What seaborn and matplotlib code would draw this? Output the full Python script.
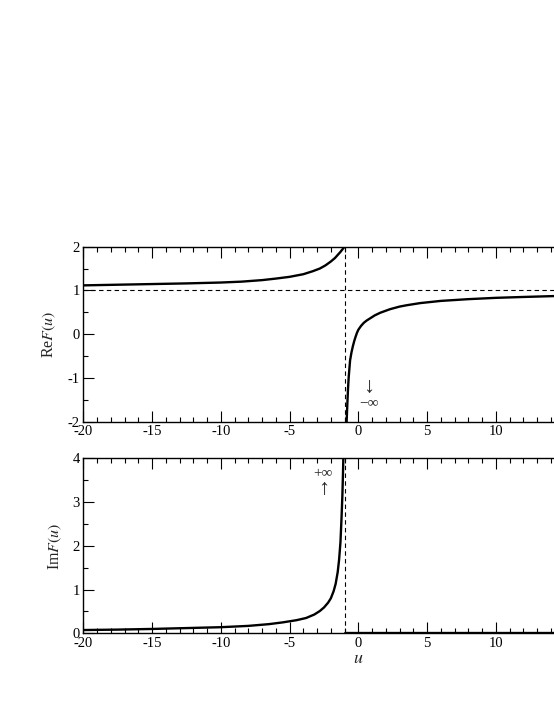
import numpy as np
import pandas as pd
import matplotlib
matplotlib.use("Agg")
import matplotlib.pyplot as plt
from matplotlib.ticker import MultipleLocator
import seaborn as sns

# values
re_left_u = [-20, -17.5, -15, -12.5, -10, -8.5, -7, -6, -5, -4, -3.3, -2.8, -2.4, -2.0, -1.7, -1.5, -1.3, -1.15, -1.0]
re_left_v = [1.115, 1.13, 1.145, 1.16, 1.18, 1.20, 1.235, 1.27, 1.31, 1.37, 1.44, 1.50, 1.57, 1.66, 1.74, 1.81, 1.88, 1.94, 2.0]

re_right_u = [-0.85, -0.8, -0.75, -0.7, -0.6, -0.5, -0.4, -0.3, -0.2, -0.1, 0, 0.2, 0.4, 0.6, 0.85, 1.2, 1.6, 2.3, 3, 3.5, 4.5, 6, 8, 10, 12, 14.2, 17, 20]
re_right_v = [-2.0, -1.6, -1.25, -0.98, -0.6, -0.42, -0.28, -0.16, -0.06, 0.03, 0.10, 0.19, 0.26, 0.31, 0.36, 0.43, 0.49, 0.57, 0.63, 0.66, 0.71, 0.76, 0.80, 0.83, 0.85, 0.87, 0.885, 0.90]

im_u = [-20, -17.5, -15, -12.5, -10, -8, -6.5, -5.5, -4.5, -3.8, -3.2, -2.8, -2.5, -2.2, -2.0, -1.8, -1.65, -1.5, -1.4, -1.3, -1.22, -1.16, -1.12, -1.09]
im_v = [0.075, 0.085, 0.10, 0.12, 0.14, 0.17, 0.21, 0.25, 0.30, 0.35, 0.43, 0.51, 0.59, 0.70, 0.80, 0.96, 1.13, 1.40, 1.68, 2.08, 2.65, 3.15, 3.6, 4.0]

im_zero_u = [-1, 20]
im_zero_v = [0, 0]

pole = -1
re_limit = 1

sns.set_style("ticks")
plt.rcParams['font.family'] = ['Liberation Serif', 'DejaVu Serif']
plt.rcParams['mathtext.fontset'] = 'stix'
plt.rcParams['axes.unicode_minus'] = False

fig = plt.figure(figsize=(5.54, 7.17), dpi=100)
# the reference is cut off on the right, so the axes run past the canvas
ax1 = fig.add_axes([0.1504, 0.4119, 0.9928, 0.2441])
ax2 = fig.add_axes([0.1504, 0.1167, 0.9928, 0.2441])

lw = 1.7
sns.lineplot(x=re_left_u, y=re_left_v, sort=False, color='black', lw=lw, ax=ax1)
sns.lineplot(x=re_right_u, y=re_right_v, sort=False, color='black', lw=lw, ax=ax1)
ax1.axhline(re_limit, color='black', lw=0.8, ls=(0, (4, 3)))
ax1.axvline(pole, color='black', lw=0.8, ls=(0, (4, 3)))

sns.lineplot(x=im_u, y=im_v, sort=False, color='black', lw=lw, ax=ax2)
sns.lineplot(x=im_zero_u, y=im_zero_v, sort=False, color='black', lw=2.4, ax=ax2)
ax2.axvline(pole, color='black', lw=0.8, ls=(0, (4, 3)))

ax1.set_ylim(-2, 2)
ax2.set_ylim(0, 4)
for ax in (ax1, ax2):
    ax.set_xlim(-20, 20)
    ax.xaxis.set_major_locator(MultipleLocator(5))
    ax.xaxis.set_minor_locator(MultipleLocator(1))
    ax.yaxis.set_major_locator(MultipleLocator(1))
    ax.yaxis.set_minor_locator(MultipleLocator(0.5))
    ax.tick_params(which='both', direction='in', top=True, right=True,
                   labelsize=10.5, colors='black', pad=2.5)
    ax.tick_params(which='major', length=7.6, width=0.8)
    ax.tick_params(which='minor', length=3.6, width=0.8)
    for s in ax.spines.values():
        s.set_linewidth(1.0)
        s.set_color('black')
    ax.set_facecolor('white')

ax1.set_ylabel(r"Re$F(u)$", fontsize=11.5)
ax2.set_ylabel(r"Im$F(u)$", fontsize=11.5)
ax1.yaxis.set_label_coords(-0.046, 0.5)
ax2.yaxis.set_label_coords(-0.036, 0.5)
ax2.set_xlabel(r"$u$", fontsize=13, labelpad=0)

# arrows marking where the curves run off to infinity
ax1.text(0.75, -1.22, "↓", ha='center', va='center', fontsize=16)
ax1.text(0.75, -1.57, "−∞", ha='center', va='center', fontsize=11)
ax2.text(-2.6, 3.64, "+∞", ha='center', va='center', fontsize=11)
ax2.text(-2.55, 3.28, "↑", ha='center', va='center', fontsize=16)

fig.savefig("out.png", dpi=100)
